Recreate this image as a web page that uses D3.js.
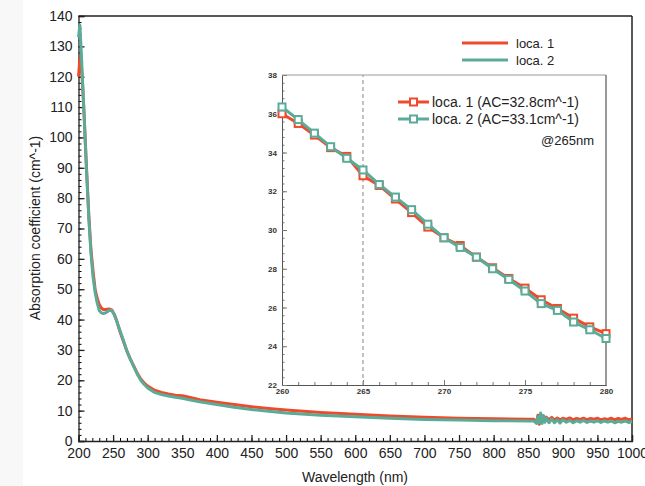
<!DOCTYPE html>
<html>
<head>
<meta charset="utf-8">
<script src="https://cdn.jsdelivr.net/npm/d3@7"></script>
<style>
  body { margin: 0; background: #fff; }
  svg { font-family: "Liberation Sans", Arial, Helvetica, sans-serif; }
</style>
</head>
<body>
<div id="chart"></div>
<script>
// main spectrum: wavelength (nm) and absorption coefficient (cm^-1)
const wavelength = [200, 202, 204, 206, 208, 210, 212, 215, 218, 221, 224, 227, 230, 233, 236, 240, 244, 248, 252, 256,
  260, 265, 270, 275, 280, 285, 290, 295, 300, 310, 320, 330, 340, 350, 360, 375, 400, 425, 450, 475, 500, 550, 600, 650,
  700, 750, 800, 850, 858, 862, 864, 866, 868, 870, 872, 874, 876, 880, 884, 888, 892, 896, 900, 905, 910, 915, 920, 925,
  930, 935, 940, 945, 950, 955, 960, 965, 970, 975, 980, 985, 990, 995, 1000];
const loca1 = [120, 126, 124, 117, 108, 98, 88, 74, 63, 56, 50, 47, 45, 43.8, 43.3, 43.3, 43.5, 43.2, 41.6, 39.0,
  36.0, 32.8, 29.6, 27.0, 24.65, 22.3, 20.4, 19.1, 18.1, 16.7, 16.0, 15.5, 15.1, 14.9, 14.4, 13.6, 12.8, 12.0, 11.3, 10.7, 10.2, 9.4, 8.8, 8.2,
  7.8, 7.5, 7.3, 7.2, 7.2, 6.0, 8.5, 5.5, 8.8, 6.5, 8.2, 6.8, 7.9, 7.0, 7.8, 6.9, 7.6, 7.0, 7.5, 7.1, 7.6, 7.0, 7.4, 7.1,
  7.5, 7.0, 7.4, 7.2, 7.5, 7.0, 7.3, 7.1, 7.5, 7.0, 7.4, 7.1, 7.5, 7.0, 7.3];
const loca2 = [133, 137, 128, 118, 108, 97, 87, 73, 62, 54, 49, 45.5, 43, 42.2, 42.0, 42.3, 43.0, 43.0, 41.5, 39.0,
  36.3, 33.1, 29.6, 26.85, 24.4, 22.0, 20.0, 18.6, 17.5, 16.0, 15.3, 14.8, 14.4, 14.1, 13.6, 12.9, 12.0, 11.1, 10.4, 9.8, 9.2, 8.5, 8.0, 7.5,
  7.1, 6.9, 6.7, 6.6, 6.6, 5.8, 8.0, 6.0, 9.2, 5.8, 8.4, 6.2, 7.6, 6.0, 7.3, 6.0, 7.0, 5.9, 7.0, 6.2, 6.8, 6.0, 6.7, 6.2,
  6.8, 6.1, 6.6, 6.2, 6.7, 6.1, 6.6, 6.2, 6.6, 6.0, 6.5, 6.2, 6.6, 6.1, 6.4];

// inset: 260-280 nm, 1 nm steps
const insetWl = [260, 261, 262, 263, 264, 265, 266, 267, 268, 269, 270, 271, 272, 273, 274, 275, 276, 277, 278, 279, 280];
const insetLoca1 = [36.0, 35.5, 34.9, 34.25, 33.8, 32.8, 32.3, 31.6, 30.9, 30.15, 29.6, 29.2, 28.6, 28.05, 27.5, 27.0, 26.4, 25.95, 25.45, 25.0, 24.65];
const insetLoca2 = [36.35, 35.7, 35.0, 34.3, 33.7, 33.1, 32.35, 31.7, 31.05, 30.3, 29.6, 29.1, 28.6, 28.0, 27.45, 26.85, 26.2, 25.85, 25.25, 24.85, 24.4];

const seriesNames = ["loca. 1", "loca. 2"];
const insetNames = ["loca. 1 (AC=32.8cm^-1)", "loca. 2 (AC=33.1cm^-1)"];
const colors = ["#ee4a2c", "#5aab97"];

var svg = d3.select("#chart").append("svg")
    .attr("width", 645)
    .attr("height", 486);

// faint grey strip at the left edge
svg.append("rect").attr("x", 0).attr("y", 0).attr("width", 23).attr("height", 486).attr("fill", "#f8f8f8");

//main scales
var x = d3.scaleLinear().domain([200, 1000]).range([78.5, 632]);
var y = d3.scaleLinear().domain([0, 140]).range([441, 16]);

//minor ticks first
svg.append("g")
    .attr("transform", "translate(0,441)")
    .call(d3.axisBottom(x).tickValues(d3.range(200, 1001, 10)).tickSize(-3).tickFormat(""))
    .call(g => g.select(".domain").remove());
svg.append("g")
    .attr("transform", "translate(78.5,0)")
    .call(d3.axisLeft(y).tickValues(d3.range(0, 141, 2)).tickSize(-3).tickFormat(""))
    .call(g => g.select(".domain").remove());

//major ticks + labels
var xAxis = svg.append("g")
    .attr("transform", "translate(0,441)")
    .call(d3.axisBottom(x).tickValues(d3.range(200, 1001, 50)).tickFormat(d3.format("d")).tickSize(-6).tickPadding(7));
var yAxis = svg.append("g")
    .attr("transform", "translate(78.5,0)")
    .call(d3.axisLeft(y).tickValues(d3.range(0, 141, 10)).tickFormat(d3.format("d")).tickSize(-6).tickPadding(6));
[xAxis, yAxis].forEach(function(g) {
    g.selectAll("text").style("font-size", "14px").attr("fill", "#222").style("font-family", "Liberation Sans, Arial, sans-serif");
    g.selectAll("line, path").attr("stroke", "#222").attr("stroke-width", 1.3);
});

//top and right frame
svg.append("line").attr("x1", 78.5).attr("x2", 632).attr("y1", 16).attr("y2", 16).attr("stroke", "#222").attr("stroke-width", 1.5);
svg.append("line").attr("x1", 632).attr("x2", 632).attr("y1", 16).attr("y2", 441).attr("stroke", "#222").attr("stroke-width", 1.5);

//axis labels
svg.append("text")
    .attr("x", 355).attr("y", 482)
    .attr("text-anchor", "middle")
    .style("font-size", "14px").attr("fill", "#222")
    .text("Wavelength (nm)");
svg.append("text")
    .attr("transform", "translate(40,228) rotate(-90)")
    .attr("text-anchor", "middle")
    .style("font-size", "14px").attr("fill", "#222")
    .text("Absorption coefficient (cm^-1)");

//main lines
var line = d3.line().x(d => x(d[0])).y(d => y(d[1]));
[loca1, loca2].forEach(function(vals, i) {
    svg.append("path")
        .datum(wavelength.map((w, j) => [w, vals[j]]))
        .attr("d", line)
        .attr("fill", "none")
        .attr("stroke", colors[i])
        .attr("stroke-width", 3)
        .attr("stroke-linejoin", "round");
});

//main legend
seriesNames.forEach(function(name, i) {
    var ly = 43 + i * 17;
    svg.append("line").attr("x1", 462).attr("x2", 508).attr("y1", ly).attr("y2", ly)
        .attr("stroke", colors[i]).attr("stroke-width", 3);
    svg.append("text").attr("x", 516).attr("y", ly).attr("dy", "0.35em")
        .style("font-size", "13px").attr("fill", "#222").text(name);
});

//inset
var ix = d3.scaleLinear().domain([260, 280]).range([282, 606]);
var iy = d3.scaleLinear().domain([22, 38]).range([385, 75]);
var inset = svg.append("g");
inset.append("rect").attr("x", 282).attr("y", 75).attr("width", 324).attr("height", 310).attr("fill", "#fff");

inset.append("g")
    .attr("transform", "translate(0,385)")
    .call(d3.axisBottom(ix).tickValues(d3.range(260, 281, 1)).tickSize(-3).tickFormat(""))
    .call(g => g.select(".domain").remove());
inset.append("g")
    .attr("transform", "translate(282,0)")
    .call(d3.axisLeft(iy).tickValues(d3.range(22, 38.01, 0.4)).tickSize(-2.5).tickFormat(""))
    .call(g => g.select(".domain").remove());
var ixAxis = inset.append("g")
    .attr("transform", "translate(0,385)")
    .call(d3.axisBottom(ix).tickValues(d3.range(260, 281, 5)).tickSize(-5).tickPadding(3));
var iyAxis = inset.append("g")
    .attr("transform", "translate(282,0)")
    .call(d3.axisLeft(iy).tickValues(d3.range(22, 39, 2)).tickSize(-5).tickPadding(5));
[ixAxis, iyAxis].forEach(function(g) {
    g.selectAll("text").style("font-size", "8px").style("font-weight", "bold").attr("fill", "#333");
    g.selectAll("line, path").attr("stroke", "#555").attr("stroke-width", 1);
});
inset.selectAll(".tick line").attr("stroke", "#777");

//top and right frame of inset
inset.append("line").attr("x1", 282).attr("x2", 606).attr("y1", 75).attr("y2", 75).attr("stroke", "#999").attr("stroke-width", 1.2);
inset.append("line").attr("x1", 606).attr("x2", 606).attr("y1", 75).attr("y2", 385).attr("stroke", "#999").attr("stroke-width", 2);

//dashed line at 265 nm
inset.append("line")
    .attr("x1", ix(265)).attr("x2", ix(265))
    .attr("y1", iy(22)).attr("y2", iy(38))
    .attr("stroke", "#999").attr("stroke-width", 1.2)
    .attr("stroke-dasharray", "4,3");

var iline = d3.line().x(d => ix(d[0])).y(d => iy(d[1]));
[insetLoca1, insetLoca2].forEach(function(vals, i) {
    var pts = insetWl.map((w, j) => [w, vals[j]]);
    inset.append("path")
        .datum(pts)
        .attr("d", iline)
        .attr("fill", "none")
        .attr("stroke", colors[i])
        .attr("stroke-width", 3);
    inset.append("g")
        .selectAll("rect")
        .data(pts)
        .enter()
        .append("rect")
        .attr("x", d => ix(d[0]) - 3.5)
        .attr("y", d => iy(d[1]) - 3.5)
        .attr("width", 7).attr("height", 7)
        .attr("fill", "#fff")
        .attr("stroke", colors[i])
        .attr("stroke-width", 2);
});

//inset legend
insetNames.forEach(function(name, i) {
    var ly = 102 + i * 17;
    inset.append("line").attr("x1", 398).attr("x2", 429).attr("y1", ly).attr("y2", ly)
        .attr("stroke", colors[i]).attr("stroke-width", 3);
    inset.append("rect").attr("x", 410).attr("y", ly - 3.5).attr("width", 7).attr("height", 7)
        .attr("fill", "#fff").attr("stroke", colors[i]).attr("stroke-width", 2);
    inset.append("text").attr("x", 432).attr("y", ly).attr("dy", "0.35em")
        .style("font-size", "14px").attr("fill", "#222").text(name);
});
inset.append("text").attr("x", 594).attr("y", 140).attr("dy", "0.35em")
    .attr("text-anchor", "end")
    .style("font-size", "13px").attr("fill", "#222").text("@265nm");
</script>
</body>
</html>
